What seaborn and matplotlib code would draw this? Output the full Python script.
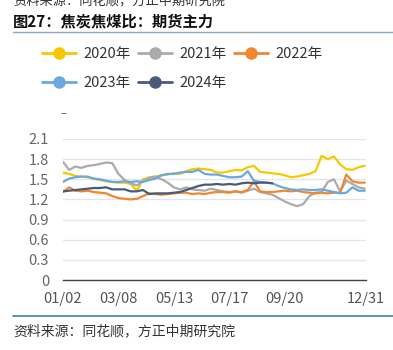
import numpy as np
import pandas as pd
import matplotlib
matplotlib.use("Agg")
import matplotlib.pyplot as plt
import seaborn as sns
from matplotlib.lines import Line2D

sns.set_theme(style="white")
plt.rcParams['font.family'] = ['Noto Sans CJK SC', 'DejaVu Sans']

# ---- data (sampled every 5 trading days) ----
step = 5
y2020 = [1.60, 1.58, 1.55, 1.54, 1.53, 1.51, 1.49, 1.47, 1.46, 1.45,
         1.45, 1.43, 1.33, 1.50, 1.53, 1.54, 1.56, 1.57, 1.59, 1.58,
         1.62, 1.65, 1.66, 1.65, 1.64, 1.60, 1.60, 1.62, 1.64, 1.63,
         1.68, 1.70, 1.61, 1.60, 1.59, 1.58, 1.56, 1.53, 1.54, 1.56,
         1.58, 1.62, 1.85, 1.80, 1.84, 1.72, 1.65, 1.64, 1.68, 1.70]
y2021 = [1.76, 1.64, 1.69, 1.67, 1.70, 1.71, 1.73, 1.75, 1.74, 1.58,
         1.49, 1.44, 1.41, 1.47, 1.52, 1.54, 1.50, 1.45, 1.38, 1.35,
         1.38, 1.35, 1.34, 1.33, 1.36, 1.34, 1.32, 1.31, 1.32, 1.30,
         1.33, 1.36, 1.31, 1.29, 1.27, 1.22, 1.17, 1.13, 1.10, 1.13,
         1.25, 1.30, 1.31, 1.46, 1.50, 1.32, 1.48, 1.43, 1.38, 1.36]
y2022 = [1.31, 1.38, 1.33, 1.32, 1.33, 1.31, 1.30, 1.29, 1.25, 1.22,
         1.21, 1.20, 1.21, 1.25, 1.29, 1.28, 1.27, 1.28, 1.29, 1.30,
         1.30, 1.28, 1.29, 1.28, 1.30, 1.31, 1.31, 1.30, 1.32, 1.31,
         1.34, 1.47, 1.32, 1.31, 1.31, 1.32, 1.33, 1.32, 1.33, 1.31,
         1.30, 1.29, 1.30, 1.29, 1.30, 1.30, 1.57, 1.47, 1.45, 1.45]
y2023 = [1.46, 1.51, 1.53, 1.54, 1.54, 1.51, 1.50, 1.48, 1.46, 1.46,
         1.47, 1.46, 1.47, 1.46, 1.49, 1.51, 1.56, 1.58, 1.58, 1.60,
         1.61, 1.61, 1.64, 1.58, 1.57, 1.57, 1.55, 1.53, 1.53, 1.54,
         1.62, 1.48, 1.46, 1.45, 1.44, 1.40, 1.37, 1.35, 1.34, 1.35,
         1.34, 1.34, 1.35, 1.33, 1.31, 1.29, 1.30, 1.38, 1.33, 1.33]
y2024 = [1.32, 1.33, 1.34, 1.35, 1.36, 1.37, 1.37, 1.38, 1.35, 1.35,
         1.35, 1.32, 1.32, 1.34, 1.28, 1.29, 1.29, 1.29, 1.30, 1.31,
         1.34, 1.37, 1.40, 1.42, 1.42, 1.43, 1.42, 1.43, 1.42, 1.44,
         1.45, 1.44, 1.45, 1.45, 1.44]
years = ["2020年", "2021年", "2022年", "2023年", "2024年"]
series = [y2020, y2021, y2022, y2023, y2024]
colors = ["#F5C800", "#ABABAB", "#F0872E", "#6AA8E0", "#4A5A78"]
tick_pos = [0, 45, 90, 135, 180, 225, 246]
tick_labels = ["01/02", "03/08", "05/13", "07/17", "09/20", "", "12/31"]
y_ticks = [0, 0.3, 0.6, 0.9, 1.2, 1.5, 1.8, 2.1]
y_tick_labels = ["0", "0.3", "0.6", "0.9", "1.2", "1.5", "1.8", "2.1"]

rows = []
for yr, vals in zip(years, series):
    for i, v in enumerate(vals):
        rows.append({"year": yr, "x": i * step, "v": v})
df = pd.DataFrame(rows)

fig = plt.figure(figsize=(3.93, 3.5), dpi=100)
ax = fig.add_axes([63/393, 1 - 280/350, (366-63)/393, (280-139)/350])
sns.lineplot(data=df, x="x", y="v", hue="year", palette=dict(zip(years, colors)),
             hue_order=years, linewidth=1.6, ax=ax, legend=False)

ax.set_xlim(0, 246)
ax.set_ylim(0, 2.1)
ax.set_xticks(tick_pos)
ax.set_xticklabels(tick_labels)
ax.set_yticks(y_ticks)
ax.set_yticklabels(y_tick_labels)
ax.set_xlabel("")
ax.set_ylabel("")
ax.grid(axis="y", color="#E2E5EC", linewidth=0.9)
ax.set_axisbelow(True)
for s in ["left", "right", "top"]:
    ax.spines[s].set_visible(False)
ax.spines["bottom"].set_color("#444444")
ax.spines["bottom"].set_linewidth(1.0)
ax.tick_params(axis="x", direction="out", length=6, width=1, color="#444444",
               labelsize=10.5, labelcolor="#555555", pad=3)
ax.tick_params(axis="y", length=0, labelsize=10.5, labelcolor="#666666", pad=10)

# legend (row-major order: 2020 2021 2022 / 2023 2024)
order = [0, 3, 1, 4, 2]
handles = [Line2D([0], [0], color=colors[i], lw=2, marker="o", markersize=8,
                  markerfacecolor=colors[i], markeredgecolor=colors[i]) for i in order]
labels = [years[i] for i in order]
fig.legend(handles, labels, loc="upper left", bbox_to_anchor=(29/393, 1 - 34/350),
           ncol=3, frameon=False, fontsize=10.5, handlelength=2.3,
           handletextpad=0.5, columnspacing=0.55, labelspacing=1.05,
           labelcolor="#333333")

fig.text(60/393, 1 - 114/350, "–", fontsize=8, color="#555555", va="center")

# title and decorations
fig.text(13/393, 1 - 2/350, "资料来源：同花顺，方正中期研究院", fontsize=9.5,
         style="italic", color="#333333", va="center")
fig.text(13/393, 1 - 21/350, "图27：焦炭焦煤比：期货主力", fontsize=11,
         fontweight="bold", color="#111111", va="center")
fig.add_artist(Line2D([13/393, 1], [1 - 32/350, 1 - 32/350], color="#8FA8C0", lw=1.0))
fig.add_artist(Line2D([13/393, 1], [1 - 316/350, 1 - 316/350], color="#3D7DBA", lw=1.2))
fig.text(13/393, 1 - 331/350, "资料来源：同花顺，方正中期研究院", fontsize=10,
         style="italic", color="#333333", va="center")

fig.savefig("out.png", dpi=100)
